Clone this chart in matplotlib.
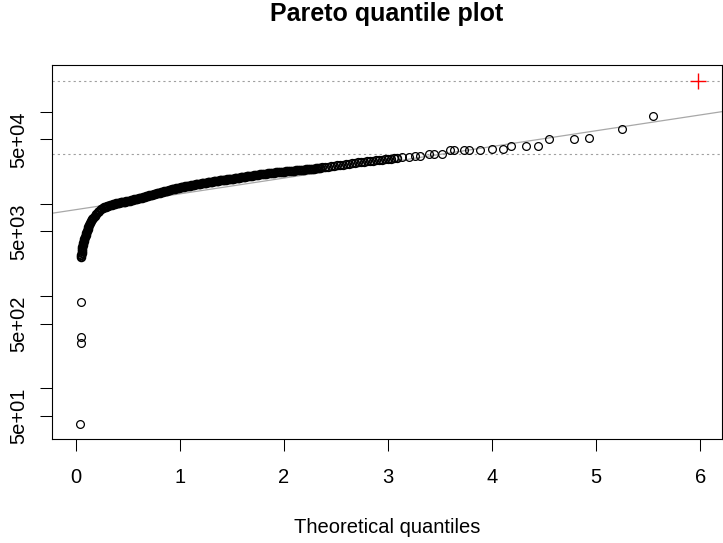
import numpy as np
import matplotlib.pyplot as plt

plt.rcParams['font.family'] = ['Liberation Sans', 'DejaVu Sans']
plt.rcParams['lines.scale_dashes'] = False

# lowest observations (isolated circles near x = 0)
low_x = [0.046, 0.047, 0.048, 0.049]
low_y = [40.3, 310, 360, 864]

# steep bend at the bottom of the curve
bend_x = [0.051, 0.053, 0.056, 0.059, 0.062, 0.065, 0.069, 0.074, 0.079, 0.084,
          0.089, 0.095, 0.101, 0.108, 0.114, 0.122, 0.130, 0.139, 0.148, 0.159,
          0.170, 0.183, 0.196, 0.212, 0.228]
bend_y = [2607, 2740, 2881, 3029, 3184, 3347, 3518, 3698, 3888, 4087,
          4297, 4517, 4748, 4991, 5247, 5515, 5798, 6095, 6407, 6736,
          7063, 7390, 7731, 8066, 8393]

# dense middle part of the curve (markers merge into a black band)
mid_x = [0.243, 0.258, 0.272, 0.287, 0.301, 0.315, 0.330, 0.344, 0.359, 0.373,
         0.388, 0.402, 0.416, 0.431, 0.445, 0.460, 0.474, 0.488, 0.503, 0.517,
         0.532, 0.546, 0.561, 0.575, 0.589, 0.604, 0.618, 0.633, 0.647, 0.661,
         0.676, 0.690, 0.705, 0.719, 0.734, 0.748, 0.762, 0.777, 0.791, 0.806,
         0.820, 0.835, 0.849, 0.863, 0.878, 0.892, 0.907, 0.921, 0.936, 0.950,
         0.964, 0.979, 0.993, 1.008, 1.022, 1.036, 1.051, 1.065, 1.080, 1.094,
         1.109, 1.123, 1.137, 1.152, 1.166, 1.181, 1.195, 1.210, 1.224, 1.238,
         1.253, 1.267, 1.282, 1.296, 1.310, 1.325, 1.339, 1.354, 1.368, 1.383,
         1.397, 1.411, 1.426, 1.440, 1.455, 1.469, 1.484, 1.498, 1.512, 1.527,
         1.541, 1.556, 1.570, 1.585, 1.599, 1.613, 1.628, 1.642, 1.657, 1.671,
         1.690, 1.710, 1.729, 1.748, 1.767, 1.786, 1.806, 1.825, 1.844, 1.863,
         1.883, 1.902, 1.921, 1.940, 1.960, 1.979, 1.998, 2.017, 2.037, 2.056,
         2.075, 2.094, 2.113, 2.133, 2.152, 2.171, 2.190, 2.210, 2.229, 2.248,
         2.267, 2.287, 2.306, 2.325, 2.344]
mid_y = [8820, 8980, 9150, 9300, 9420, 9550, 9680, 9780, 9870, 9970,
         10060, 10140, 10220, 10300, 10390, 10470, 10550, 10640, 10720, 10810,
         10900, 11010, 11110, 11210, 11320, 11420, 11530, 11650, 11780, 11900,
         12020, 12150, 12280, 12410, 12540, 12660, 12790, 12920, 13050, 13190,
         13320, 13460, 13590, 13730, 13870, 14010, 14160, 14280, 14410, 14540,
         14670, 14800, 14940, 15060, 15170, 15280, 15390, 15500, 15610, 15720,
         15830, 15940, 16050, 16160, 16270, 16380, 16490, 16590, 16700, 16810,
         16910, 17020, 17130, 17240, 17340, 17440, 17550, 17650, 17760, 17870,
         17970, 18060, 18160, 18250, 18350, 18440, 18540, 18640, 18750, 18850,
         18960, 19070, 19180, 19290, 19400, 19520, 19640, 19760, 19870, 19990,
         20140, 20300, 20450, 20600, 20760, 20900, 21030, 21180, 21310, 21450,
         21570, 21690, 21820, 21940, 22060, 22180, 22300, 22420, 22540, 22670,
         22780, 22880, 22990, 23090, 23190, 23300, 23400, 23510, 23610, 23720,
         23870, 24040, 24210, 24380, 24550]

# thinning part of the curve, circles still overlapping
upper_x = [2.368, 2.397, 2.426, 2.455, 2.484, 2.512, 2.541, 2.570, 2.599, 2.628,
           2.656, 2.685, 2.714, 2.743, 2.772, 2.801, 2.829, 2.858, 2.887, 2.916,
           2.945, 2.974, 3.002, 3.031, 3.060, 3.089]
upper_y = [24770, 25030, 25290, 25550, 25800, 26060, 26310, 26610, 26900, 27210,
           27490, 27760, 28030, 28300, 28560, 28820, 29080, 29340, 29610, 29870,
           30110, 30340, 30570, 30820, 31120, 31430]

# upper tail, separate circles
tail_x = [3.135, 3.198, 3.263, 3.311, 3.390, 3.445, 3.519, 3.592, 3.631, 3.727,
          3.775, 3.888, 4.000, 4.106, 4.186, 4.330, 4.442, 4.548, 4.785, 4.936,
          5.253, 5.548]
tail_y = [31900, 32100, 32900, 33200, 34200, 34400, 34600, 38270, 38270, 38270,
          38270, 38270, 39540, 39540, 42290, 42290, 42290, 50000, 50000, 51650,
          64700, 90230]

# largest observation (red cross)
max_x = 5.981
max_y = 215000

# dotted reference levels
hline_y = [215000, 34600]

# fitted line, two points
fit_x = [0, 6]
fit_y = [8610, 91800]

xticks = [0, 1, 2, 3, 4, 5, 6]
yticks = [50, 100, 500, 1000, 5000, 10000, 50000, 100000]
ytick_labels = ['5e+01', '', '5e+02', '', '5e+03', '', '5e+04', '']

fig = plt.figure(figsize=(7.23, 5.43), dpi=100)
ax = fig.add_axes([0.0719, 0.1915, 0.9267, 0.6888])
ax.set_yscale('log')

for h in hline_y:
    ax.axhline(h, color='#a0a0a0', lw=0.8, ls=(0, (1.6, 2.2)), zorder=1)

ax.axline((fit_x[0], fit_y[0]), (fit_x[1], fit_y[1]), color='#a8a8a8', lw=0.9, zorder=2)

# heavy overlap of many circles in the reference -> thicker edges there
ax.plot(bend_x + mid_x, bend_y + mid_y, 'o', mfc='none', mec='black',
        ms=5.4, mew=1.5, zorder=3)
ax.plot(upper_x, upper_y, 'o', mfc='none', mec='black', ms=5.5, mew=1.2, zorder=3)
ax.plot(low_x + tail_x, low_y + tail_y, 'o', mfc='none',
        mec='black', ms=5.6, mew=0.9, zorder=3)
ax.plot(max_x, max_y, '+', color='red', ms=11, mew=1.0, zorder=4)

ax.set_xlim(-0.228, 6.21)
ax.set_ylim(27.9, 320000)

ax.set_xticks(xticks)
ax.set_xticklabels([str(t) for t in xticks])
ax.set_yticks(yticks)
ax.set_yticklabels(ytick_labels, rotation=90, va='center')
ax.minorticks_off()

ax.tick_params(length=8.6, width=0.75, labelsize=14.5, pad=8.5)
ax.tick_params(axis='x', pad=12)
for s in ax.spines.values():
    s.set_linewidth(0.8)

ax.set_xlabel('Theoretical quantiles', fontsize=14.5, va='center')
ax.xaxis.set_label_coords(0.5, -0.2353)
fig.text(0.5353, 1 - 14 / 543, 'Pareto quantile plot', fontsize=18,
         fontweight='bold', ha='center', va='center')

fig.savefig('out.png', dpi=100)
